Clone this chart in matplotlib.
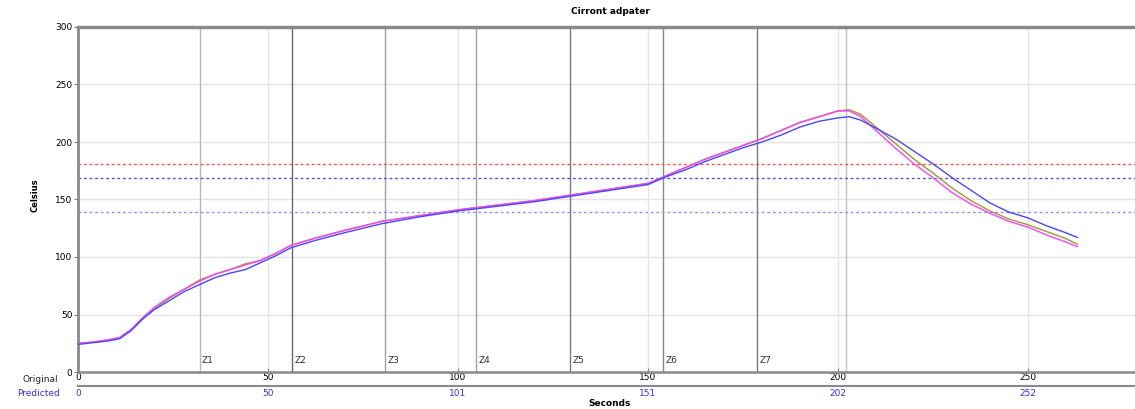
import matplotlib
matplotlib.use("Agg")
import matplotlib.pyplot as plt
from matplotlib.lines import Line2D
from matplotlib.transforms import blended_transform_factory

# ---------------- data ----------------
title = "Cirront adpater"
x_label = "Seconds"
y_label = "Celsius"

time_s = [0, 4, 8, 11, 14, 17, 20, 24, 28, 32, 36, 40, 44, 48, 52, 56, 62, 70, 80, 90,
          100, 110, 120, 130, 140, 150, 155, 160, 165, 170, 175, 180, 185, 190, 195,
          200, 203, 206, 210, 215, 220, 225, 230, 235, 240, 245, 250, 255, 260, 263]

olive_vals = [25, 26, 28, 30, 37, 47, 55, 64, 72, 80, 85, 89, 94, 97, 103, 110, 116, 123, 131, 136,
              141, 145, 149, 154, 159, 164, 171, 178, 185, 191, 197, 203, 210, 217, 222,
              227, 228, 224, 213, 199, 185, 173, 160, 149, 140, 133, 128, 122, 116, 111]

magenta_vals = [25, 26, 28, 30, 37, 47, 56, 65, 72, 79, 85, 89, 93, 97, 103, 110, 116, 123, 131, 136,
                141, 145, 149, 154, 159, 164, 171, 178, 185, 191, 197, 203, 210, 217, 222,
                227, 227, 222, 210, 195, 181, 169, 156, 146, 138, 131, 126, 119, 113, 109]

blue_vals = [24, 25.5, 27, 29, 36, 46, 54, 62, 70, 76, 82, 86, 89, 95, 101, 108, 114, 121, 129, 135,
             140, 144, 148, 153, 158, 163, 170, 176, 183, 189, 195, 200, 206, 213, 218,
             221, 222, 219, 212, 203, 192, 181, 169, 158, 147, 139, 134, 127, 121, 117]

zone_names = ["Z1", "Z2", "Z3", "Z4", "Z5", "Z6", "Z7"]
zone_times = [32, 56.3, 80.8, 104.7, 129.5, 154, 178.7]
extra_line_time = 202.1

limit_levels = [181, 169, 139.4]

x_ticks = [0, 50, 100, 150, 200, 250]
original_labels = ["0", "50", "100", "150", "200", "250"]
predicted_labels = ["0", "50", "101", "151", "202", "252"]
y_ticks = [0, 50, 100, 150, 200, 250, 300]

# ---------------- figure ----------------
W, H = 1135, 409
fig = plt.figure(figsize=(W / 100, H / 100), dpi=100)
fig.patch.set_facecolor("white")

left_px, right_px, top_px, bottom_px = 78, 1135, 27, 372
ax = fig.add_axes([left_px / W, (H - bottom_px) / H,
                   (right_px - left_px) / W, (bottom_px - top_px) / H])

ax.set_xlim(0, (right_px - left_px) / 3.8)
ax.set_ylim(0, 300)

# grid
ax.set_xticks(x_ticks)
ax.set_yticks(y_ticks)
ax.grid(True, color="#e4e4e4", linewidth=1.0)
ax.set_axisbelow(True)

# spines
for s in ["top", "left", "bottom"]:
    ax.spines[s].set_color("#8a8a8a")
ax.spines["top"].set_linewidth(2.5)
ax.spines["left"].set_linewidth(2.0)
ax.spines["bottom"].set_linewidth(1.8)
ax.spines["right"].set_visible(False)

ax.tick_params(axis="y", labelsize=6.5, length=3, width=0.8, color="#808080", pad=1)
ax.tick_params(axis="x", labelsize=6.5, length=3, width=0.8, color="#808080", pad=1,
               direction="in")
ax.set_xticklabels(original_labels)

# zone lines
zone_colors = ["#b8b8b8", "#6a6a6a", "#a0a0a0", "#a0a0a0", "#7a7a7a", "#888888", "#7a7a7a"]
for name, t, c in zip(zone_names, zone_times, zone_colors):
    ax.axvline(t, color=c, linewidth=1.0, zorder=1)
    ax.text(t + 0.6, 6, name, fontsize=6.5, color="#333333", ha="left", va="bottom")
ax.axvline(extra_line_time, color="#c0c0c0", linewidth=1.0, zorder=1)

# limit lines
limit_colors = ["#ff5050", "#5050ff", "#9090ff"]
for lvl, c in zip(limit_levels, limit_colors):
    ax.axhline(lvl, color=c, linewidth=1.0, linestyle=(0, (2, 2)), zorder=2)

# curves
ax.plot(time_s, olive_vals, color="#a0a040", linewidth=1.1, zorder=3)
ax.plot(time_s, magenta_vals, color="#ff40ff", linewidth=1.0, zorder=4)
ax.plot(time_s, blue_vals, color="#4848ff", linewidth=1.0, zorder=5)

# title and labels
fig.text(610 / W, 1 - 12 / H, title, fontsize=6.5, fontweight="bold",
         ha="center", va="center")
fig.text(35 / W, 1 - 195 / H, y_label, fontsize=6, fontweight="bold",
         rotation=90, ha="center", va="center")
fig.text(610 / W, 1 - 403 / H, x_label, fontsize=6.5, fontweight="bold",
         ha="center", va="center")

# second (predicted) scale row
sep_y = 1 - 386 / H
fig.add_artist(Line2D([left_px / W, 1.0], [sep_y, sep_y], color="#8a8a8a", linewidth=1.5,
                      transform=fig.transFigure))
fig.text(40 / W, 1 - 379 / H, "Original", fontsize=6.5, ha="center", va="center",
         color="#222222")
fig.text(39 / W, 1 - 393 / H, "Predicted", fontsize=6.5, ha="center", va="center",
         color="#3030ff")
trans = blended_transform_factory(ax.transData, fig.transFigure)
for t, lab in zip(x_ticks, predicted_labels):
    ax.text(t, 1 - 393 / H, lab, fontsize=6.5, color="#3030ff", ha="center", va="center",
            transform=trans, clip_on=False)

fig.savefig("out.png", dpi=100, facecolor="white")
